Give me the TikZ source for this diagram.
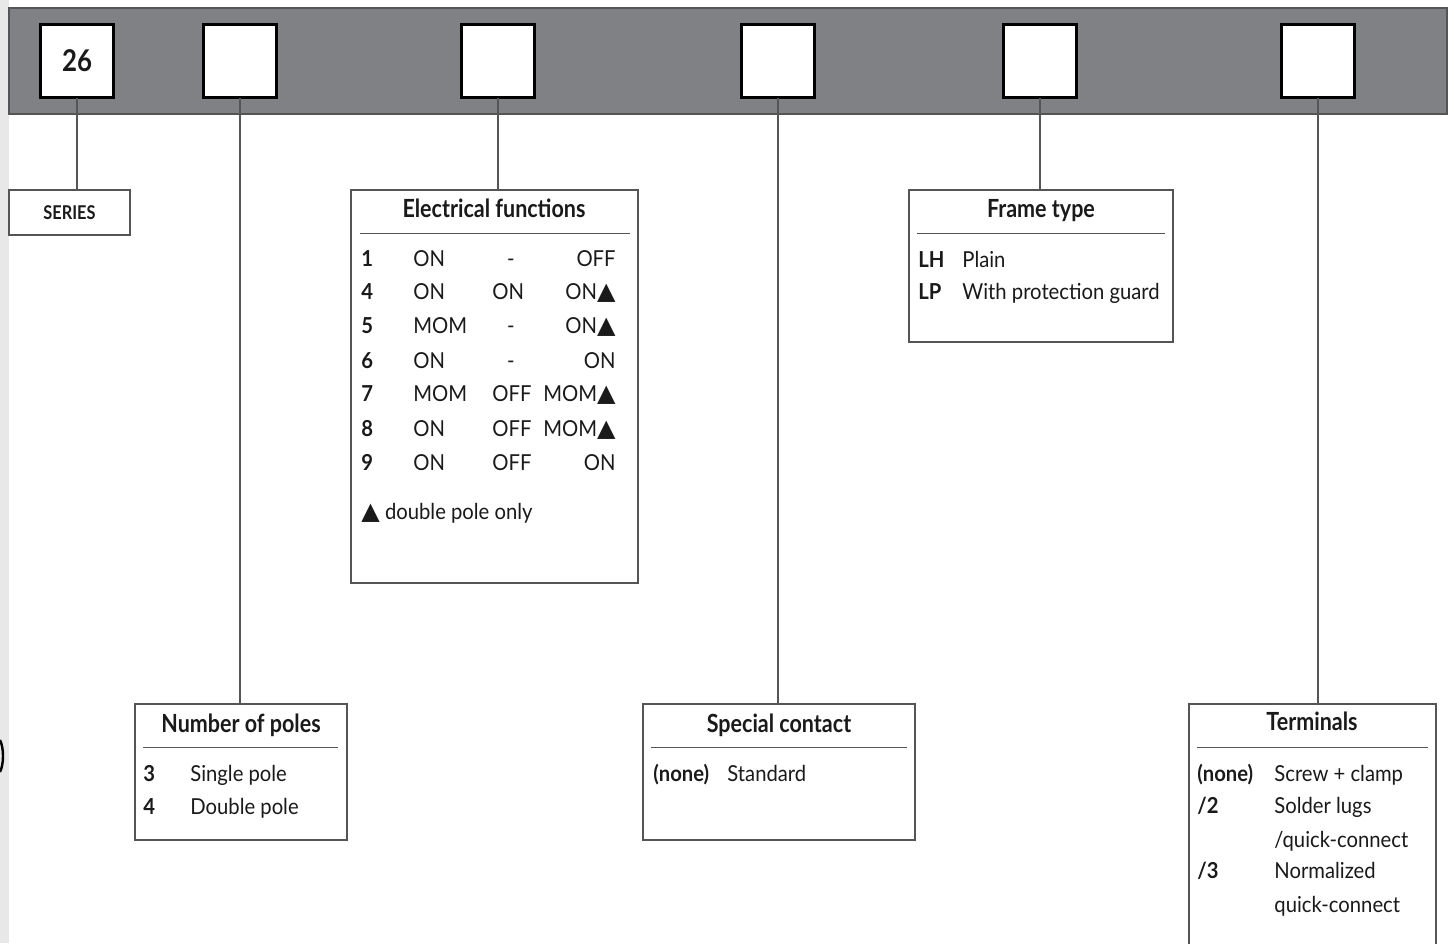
\documentclass[tikz,border=0pt]{standalone}
\usepackage{fontspec}
\setmainfont{Lato}[FakeStretch=0.92]
\newfontfamily\condfont[FakeStretch=0.86]{Lato}
\newfontfamily\symfont{DejaVu Sans}
\definecolor{barfill}{HTML}{808185}
\definecolor{bardraw}{HTML}{555555}
\definecolor{stripgray}{HTML}{E8E8E8}
\definecolor{linegray}{HTML}{555555}
\definecolor{ink}{HTML}{1A1A1A}
\newcommand{\tri}{{\symfont\fontsize{12}{12}\selectfont ▲}}
\tikzset{
  slot/.style={draw=black, line width=1.5pt, fill=white, minimum size=36.5pt, inner sep=0pt, outer sep=0pt, font=\condfont\bfseries\fontsize{15}{16}\selectfont, text=ink},
  panel/.style={draw=linegray, line width=0.6pt, fill=white, anchor=north west, inner sep=0pt, outer sep=0pt},
  conn/.style={draw=linegray, line width=0.6pt},
  sep/.style={draw=linegray, line width=0.5pt},
  ptitle/.style={anchor=base, inner sep=0pt, font=\condfont\bfseries\fontsize{12.5}{14}\selectfont, text=ink},
  body/.style={anchor=base west, inner sep=0pt, font=\fontsize{11}{13}\selectfont, text=ink},
  bodyr/.style={anchor=base east, inner sep=0pt, font=\fontsize{11}{13}\selectfont, text=ink},
  bodyc/.style={anchor=base, inner sep=0pt, font=\fontsize{11}{13}\selectfont, text=ink},
  key/.style={anchor=base west, inner sep=0pt, font=\bfseries\fontsize{11}{13}\selectfont, text=ink},
}
\begin{document}
\begin{tikzpicture}[x=0.5pt,y=-0.5pt]
\useasboundingbox (0,0) rectangle (1454,943);
\clip (0,0) rectangle (1454,943);
\fill[stripgray] (0,0) rectangle (9,943);
\draw[black, line width=1.2pt] (0,740) .. controls (4,748) and (4,764) .. (0,772);
% bar
\draw[fill=barfill, draw=bardraw, line width=0.6pt] (9,8) rectangle (1447,114);
\node[slot] (b1) at (77,61) {26};
\node[slot] (b2) at (240,61) {};
\node[slot] (b3) at (498,61) {};
\node[slot] (b4) at (778,61) {};
\node[slot] (b5) at (1040,61) {};
\node[slot] (b6) at (1318,61) {};
% panels
\node[panel, minimum width=60.5pt, minimum height=22.5pt] (p1) at (9,190) {};
\node[panel, minimum width=143.5pt, minimum height=196.5pt] (p3) at (351,190) {};
\node[panel, minimum width=132pt, minimum height=76pt] (p5) at (909,190) {};
\node[panel, minimum width=106pt, minimum height=68pt] (p2) at (135,704) {};
\node[panel, minimum width=136pt, minimum height=68pt] (p4) at (643,704) {};
\node[panel, minimum width=123.5pt, minimum height=130pt] (p6) at (1189,704) {};
% connectors
\draw[conn] (b1.south) -- (b1.south |- p1.north);
\draw[conn] (b2.south) -- (b2.south |- p2.north);
\draw[conn] (b3.south) -- (b3.south |- p3.north);
\draw[conn] (b4.south) -- (b4.south |- p4.north);
\draw[conn] (b5.south) -- (b5.south |- p5.north);
\draw[conn] (b6.south) -- (b6.south |- p6.north);
% SERIES
\node[inner sep=0pt, font=\condfont\bfseries\fontsize{9.5}{10}\selectfont, text=ink] (t1) at (p1.center) {SERIES};
% Electrical functions
\node[ptitle] (t3) at (494,217) {Electrical functions};
\draw[sep] (360,233) -- (630,233);
\foreach \n/\a/\b/\c/\y in {1/ON/-/OFF/266, 4/ON/ON/ON\tri/299, 5/MOM/-/ON\tri/333, 6/ON/-/ON/368, 7/MOM/OFF/MOM\tri/401, 8/ON/OFF/MOM\tri/436, 9/ON/OFF/ON/470}{
  \node[key] (k\n) at (361,\y) {\n};
  \node[body] (a\n) at (413,\y) {\a};
  \node[bodyr] (c\n) at (616,\y) {\c};
}
\node[bodyc] (m1) at (511,266) {-};
\node[body] (m4) at (492,299) {ON};
\node[bodyc] (m5) at (511,333) {-};
\node[bodyc] (m6) at (511,368) {-};
\node[body] (m7) at (492,401) {OFF};
\node[body] (m8) at (492,436) {OFF};
\node[body] (m9) at (492,470) {OFF};
\node[body] (fn) at (361,519) {\tri\ double pole only};
% Frame type
\node[ptitle] (t5) at (1041,217) {Frame type};
\draw[sep] (917,233) -- (1165,233);
\node[key] (f1) at (918,267) {LH};
\node[body] (f1d) at (962,267) {Plain};
\node[key] (f2) at (918,299) {LP};
\node[body] (f2d) at (962,299) {With protection guard};
% Number of poles
\node[ptitle] (t2) at (241,732) {Number of poles};
\draw[sep] (143,747) -- (338,747);
\node[key] (n1) at (143,781) {3};
\node[body] (n1d) at (190,781) {Single pole};
\node[key] (n2) at (143,814) {4};
\node[body] (n2d) at (190,814) {Double pole};
% Special contact
\node[ptitle] (t4) at (779,732) {Special contact};
\draw[sep] (651,747) -- (907,747);
\node[key] (s1) at (653,781) {(none)};
\node[body] (s1d) at (727,781) {Standard};
% Terminals
\node[ptitle] (t6) at (1312,730) {Terminals};
\draw[sep] (1197,747) -- (1428,747);
\node[key] (r1) at (1197,781) {(none)};
\node[body] (r1d) at (1274,781) {Screw + clamp};
\node[key] (r2) at (1197,813) {/2};
\node[body] (r2d) at (1274,813) {Solder lugs};
\node[body] (r2e) at (1274,847) {/quick-connect};
\node[key] (r3) at (1197,878) {/3};
\node[body] (r3d) at (1274,878) {Normalized};
\node[body] (r3e) at (1274,912) {quick-connect};
\end{tikzpicture}
\end{document}
